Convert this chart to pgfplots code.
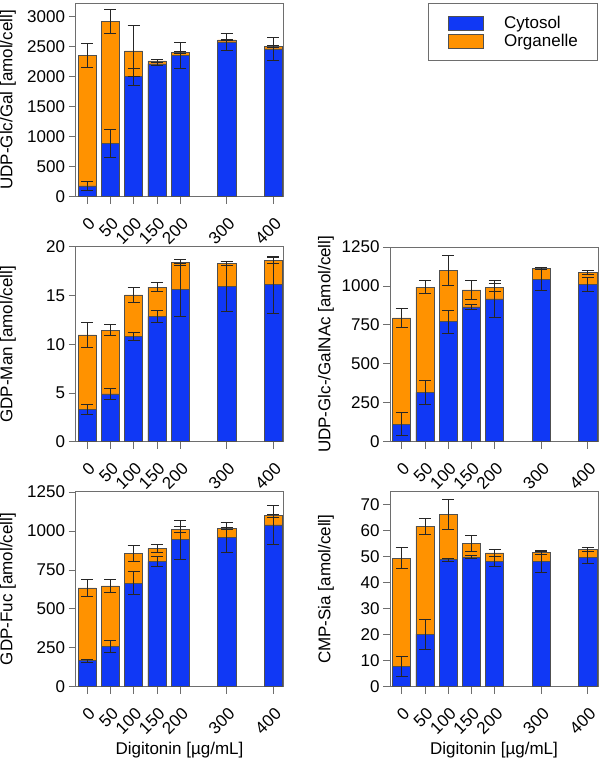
\documentclass[border=0pt]{standalone}
\usepackage{fontspec}
\setmainfont{Liberation Sans}
\usepackage{pgfplots}
\pgfplotsset{compat=1.18}
\definecolor{cyt}{RGB}{16,56,245}
\definecolor{org}{RGB}{255,146,0}
\definecolor{axc}{RGB}{110,110,110}
\definecolor{barc}{RGB}{80,80,80}
\newcommand{\bigf}{\fontsize{17}{20}\selectfont}
\pgfplotsset{
  panel/.style={
    scale only axis, width=208pt,
    xmin=-25, xmax=422, ymin=0,
    xtick={0,50,100,150,200,300,400},
    tick align=outside, tick pos=left, major tick length=7pt,
    axis line style={axc, line width=0.8pt},
    tick style={axc, line width=0.8pt},
    /pgf/number format/assume math mode=true,
    /pgf/number format/1000 sep={},
    ticklabel style={font=\bigf},
    xticklabel style={xshift=5pt, yshift=-17pt, rotate=45, anchor=east, inner sep=0pt},
    every axis x label/.style={at={(axis description cs:0.5,0)}, anchor=center, yshift=-63pt, font=\bigf},
  },
  leftlab/.style={every axis y label/.style={at={(axis description cs:-0.325,0.5)}, rotate=90, anchor=center, font=\bigf}},
  rightlab/.style={every axis y label/.style={at={(axis description cs:-0.308,0.5)}, rotate=90, anchor=center, font=\bigf}},
  orgbar/.style={ybar, bar width=39, bar shift=0pt, fill=org, draw=barc, line width=0.6pt, forget plot},
  cytbar/.style={ybar, bar width=39, bar shift=0pt, fill=cyt, draw=barc, line width=0.6pt, forget plot},
  errs/.style={draw=none, mark=none, forget plot, error bars/.cd, y dir=both, y explicit,
    error bar style={draw=black!85, line width=0.8pt},
    error mark options={draw=black!85, rotate=90, mark size=6pt, line width=0.8pt}},
}
\begin{document}
\begin{tikzpicture}
\useasboundingbox (0,0) rectangle (602pt,-759pt);
% ---------- Panel 1: UDP-Glc/Gal
\begin{axis}[panel, leftlab, at={(75.5pt,-196.7pt)}, anchor=south west,
  height=193.7pt, ymax=3230, ytick={0,500,1000,1500,2000,2500,3000},
  ylabel={UDP-Glc/Gal [amol/cell]},
  legend image code/.code={\draw[#1] (0pt,-7pt) rectangle (35pt,7pt);},
  legend style={at={(axis description cs:1.695,1.0015)}, anchor=north west,
    draw=axc, line width=0.8pt, font=\bigf, inner xsep=20pt, inner ysep=12.5pt,
    nodes={inner sep=0pt}, column sep=20pt, row sep=3.5pt},
  legend cell align=left]
\addlegendimage{fill=cyt, draw=barc, line width=0.6pt}
\addlegendentry{Cytosol}
\addlegendimage{fill=org, draw=barc, line width=0.6pt}
\addlegendentry{Organelle}
\addplot[orgbar] coordinates {(0,2355) (50,2920) (100,2430) (150,2265) (200,2400) (300,2615) (400,2500)};
\addplot[cytbar] coordinates {(0,180) (50,890) (100,2000) (150,2215) (200,2355) (300,2580) (400,2465)};
\addplot[errs] coordinates {(0,2355) +- (0,200) (50,2920) +- (0,200) (100,2430) +- (0,420) (150,2265) +- (0,25) (200,2400) +- (0,15) (300,2615) +- (0,10) (400,2500) +- (0,15)};
\addplot[errs] coordinates {(0,180) +- (0,70) (50,890) +- (0,240) (100,2000) +- (0,140) (150,2215) +- (0,30) (200,2355) +- (0,210) (300,2580) +- (0,135) (400,2465) +- (0,185)};
\end{axis}
% ---------- Panel 2: GDP-Man
\begin{axis}[panel, leftlab, at={(75.5pt,-441.7pt)}, anchor=south west,
  height=195pt, ymax=20, ytick={0,5,10,15,20},
  ylabel={GDP-Man [amol/cell]}]
\addplot[orgbar] coordinates {(0,10.95) (50,11.45) (100,15.05) (150,15.85) (200,18.35) (300,18.25) (400,18.6)};
\addplot[cytbar] coordinates {(0,3.3) (50,4.9) (100,10.8) (150,12.85) (200,15.6) (300,15.95) (400,16.1)};
\addplot[errs] coordinates {(0,10.95) +- (0,1.25) (50,11.45) +- (0,0.55) (100,15.05) +- (0,0.75) (150,15.85) +- (0,0.45) (200,18.35) +- (0,0.3) (300,18.25) +- (0,0.2) (400,18.6) +- (0,0.3)};
\addplot[errs] coordinates {(0,3.3) +- (0,0.55) (50,4.9) +- (0,0.55) (100,10.8) +- (0,0.45) (150,12.85) +- (0,0.65) (200,15.6) +- (0,2.7) (300,15.95) +- (0,2.55) (400,16.1) +- (0,2.9)};
\end{axis}
% ---------- Panel 3: UDP-Glc-/GalNAc
\begin{axis}[panel, rightlab, at={(390pt,-441.7pt)}, anchor=south west,
  height=194.7pt, ymax=1250, ytick={0,250,500,750,1000,1250},
  ylabel={UDP-Glc-/GalNAc [amol/cell]}]
\addplot[orgbar] coordinates {(0,795) (50,993) (100,1100) (150,975) (200,993) (300,1111) (400,1085)};
\addplot[cytbar] coordinates {(0,113) (50,317) (100,770) (150,866) (200,917) (300,1040) (400,1011)};
\addplot[errs] coordinates {(0,795) +- (0,58) (50,993) +- (0,40) (100,1100) +- (0,97) (150,975) +- (0,60) (200,993) +- (0,25) (300,1111) +- (0,5) (400,1085) +- (0,14)};
\addplot[errs] coordinates {(0,113) +- (0,72) (50,317) +- (0,77) (100,770) +- (0,72) (150,866) +- (0,18) (200,917) +- (0,120) (300,1040) +- (0,66) (400,1011) +- (0,47)};
\end{axis}
% ---------- Panel 4: GDP-Fuc
\begin{axis}[panel, leftlab, at={(75.5pt,-686.7pt)}, anchor=south west,
  height=195.5pt, ymax=1256, ytick={0,250,500,750,1000,1250},
  ylabel={GDP-Fuc [amol/cell]}, xlabel={Digitonin [µg/mL]}]
\addplot[orgbar] coordinates {(0,635) (50,648) (100,855) (150,889) (200,1011) (300,1017) (400,1098)};
\addplot[cytbar] coordinates {(0,168) (50,260) (100,665) (150,804) (200,945) (300,960) (400,1040)};
\addplot[errs] coordinates {(0,635) +- (0,53) (50,648) +- (0,40) (100,855) +- (0,50) (150,889) +- (0,25) (200,1011) +- (0,17) (300,1017) +- (0,6) (400,1098) +- (0,8)};
\addplot[errs] coordinates {(0,168) +- (0,10) (50,260) +- (0,38) (100,665) +- (0,73) (150,804) +- (0,30) (200,945) +- (0,124) (300,960) +- (0,96) (400,1040) +- (0,127)};
\end{axis}
% ---------- Panel 5: CMP-Sia
\begin{axis}[panel, rightlab, at={(390pt,-686.7pt)}, anchor=south west,
  height=195pt, ymax=75, ytick={0,10,20,30,40,50,60,70},
  ylabel={CMP-Sia [amol/cell]}, xlabel={Digitonin [µg/mL]}]
\addplot[orgbar] coordinates {(0,49.4) (50,61.8) (100,66.3) (150,55.1) (200,51.5) (300,51.6) (400,52.8)};
\addplot[cytbar] coordinates {(0,7.8) (50,20.2) (100,48.9) (150,49.8) (200,48.1) (300,48.3) (400,49.7)};
\addplot[errs] coordinates {(0,49.4) +- (0,4) (50,61.8) +- (0,3.1) (100,66.3) +- (0,5.9) (150,55.1) +- (0,3.2) (200,51.5) +- (0,1.2) (300,51.6) +- (0,0.6) (400,52.8) +- (0,0.6)};
\addplot[errs] coordinates {(0,7.8) +- (0,4) (50,20.2) +- (0,5.7) (100,48.9) +- (0,0.6) (150,49.8) +- (0,0.6) (200,48.1) +- (0,2) (300,48.3) +- (0,4.2) (400,49.7) +- (0,2.2)};
\end{axis}
\end{tikzpicture}
\end{document}
